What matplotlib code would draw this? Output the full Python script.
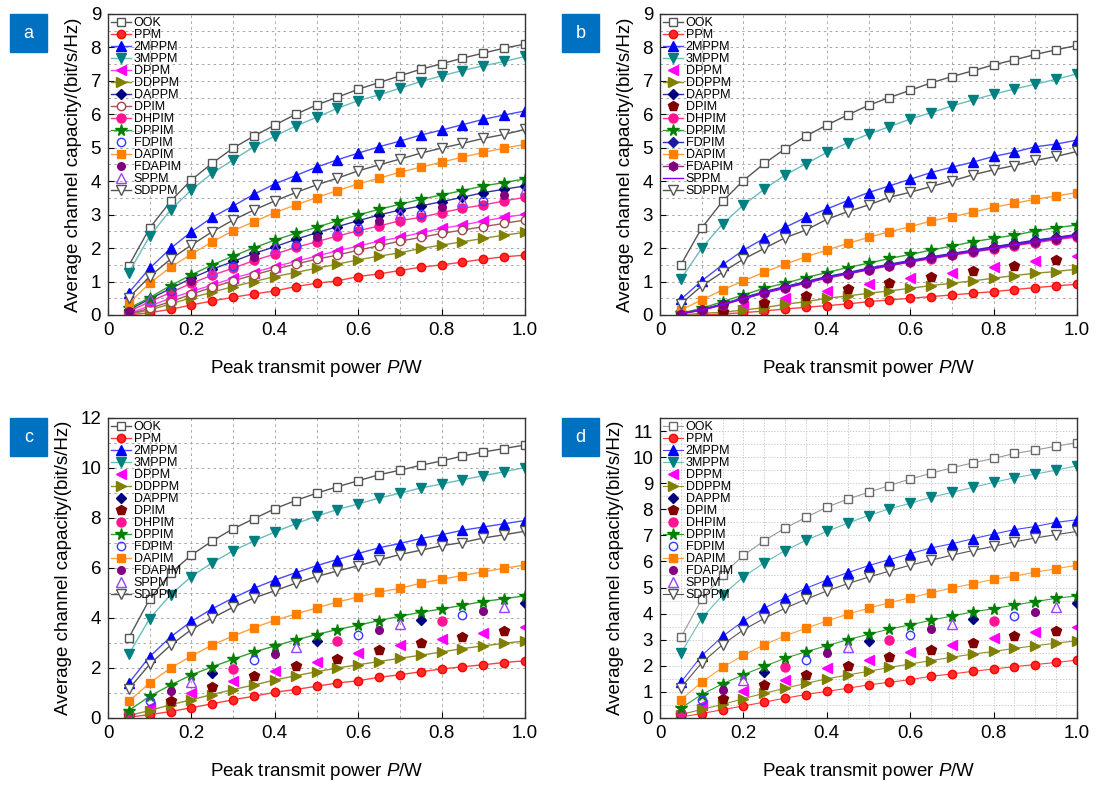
import numpy as np
import matplotlib
matplotlib.use('Agg')
import matplotlib.pyplot as plt
from matplotlib.patches import Rectangle
from matplotlib.ticker import MultipleLocator

plt.rcParams['font.family'] = ['Liberation Sans', 'DejaVu Sans']
plt.rcParams['mathtext.fontset'] = 'custom'
plt.rcParams['mathtext.rm'] = 'Liberation Sans'
plt.rcParams['mathtext.it'] = 'Liberation Sans:italic'

N = np.nan

# peak transmit power P (W)
power = [0.05, 0.10, 0.15, 0.20, 0.25, 0.30, 0.35, 0.40, 0.45, 0.50,
         0.55, 0.60, 0.65, 0.70, 0.75, 0.80, 0.85, 0.90, 0.95, 1.00]

names = ['OOK', 'PPM', '2MPPM', '3MPPM', 'DPPM', 'DDPPM', 'DAPPM', 'DPIM',
         'DHPIM', 'DPPIM', 'FDPIM', 'DAPIM', 'FDAPIM', 'SPPM', 'SDPPM']

# ---- panel a
ook_a = [1.48, 2.60, 3.40, 4.04, 4.54, 4.99, 5.35, 5.68, 6.00, 6.28, 6.51, 6.75, 6.95, 7.15, 7.35, 7.51, 7.68, 7.83, 7.98, 8.10]
ppm_a = [0.00, 0.07, 0.17, 0.30, 0.42, 0.53, 0.63, 0.72, 0.85, 0.95, 1.02, 1.15, 1.23, 1.33, 1.43, 1.50, 1.58, 1.67, 1.74, 1.79]
m2_a = [0.67, 1.40, 1.99, 2.49, 2.92, 3.26, 3.61, 3.92, 4.17, 4.42, 4.64, 4.84, 5.03, 5.20, 5.38, 5.53, 5.69, 5.85, 5.98, 6.10]
m3_a = [1.27, 2.36, 3.14, 3.74, 4.24, 4.64, 5.03, 5.35, 5.65, 5.91, 6.18, 6.41, 6.58, 6.78, 6.98, 7.15, 7.31, 7.45, 7.58, 7.73]
dppm_a = [0.05, 0.27, 0.50, 0.70, 0.90, 1.10, 1.27, 1.45, 1.60, 1.76, 1.92, 2.06, 2.21, 2.32, 2.46, 2.59, 2.69, 2.81, 2.92, 3.01]
ddppm_a = [0.02, 0.15, 0.33, 0.52, 0.68, 0.85, 1.00, 1.15, 1.27, 1.40, 1.52, 1.65, 1.76, 1.86, 1.99, 2.09, 2.19, 2.29, 2.39, 2.47]
dappm_a = [0.15, 0.48, 0.79, 1.10, 1.37, 1.60, 1.84, 2.04, 2.26, 2.46, 2.64, 2.82, 2.99, 3.14, 3.26, 3.39, 3.52, 3.66, 3.76, 3.86]
dpim_a = [0.03, 0.20, 0.40, 0.62, 0.83, 1.02, 1.20, 1.37, 1.52, 1.67, 1.79, 1.94, 2.07, 2.21, 2.32, 2.44, 2.54, 2.64, 2.74, 2.84]
dhpim_a = [0.10, 0.40, 0.67, 0.95, 1.19, 1.40, 1.63, 1.82, 2.02, 2.19, 2.36, 2.52, 2.66, 2.82, 2.92, 3.06, 3.19, 3.29, 3.41, 3.52]
dppim_a = [0.20, 0.52, 0.88, 1.20, 1.50, 1.76, 2.01, 2.24, 2.44, 2.62, 2.82, 2.99, 3.16, 3.31, 3.46, 3.59, 3.72, 3.86, 3.96, 4.07]
fdpim_a = [N, N, 0.72, N, N, 1.48, N, N, 2.10, N, N, 2.60, N, N, 3.02, N, N, 3.40, N, N]
dapim_a = [0.35, 0.95, 1.43, 1.82, 2.19, 2.52, 2.79, 3.06, 3.29, 3.51, 3.72, 3.92, 4.09, 4.27, 4.42, 4.57, 4.72, 4.86, 4.99, 5.10]
fdapim_a = [0.12, N, N, 1.02, N, N, 1.74, N, N, 2.33, N, N, 2.82, N, N, 3.23, N, N, 3.58, N]
sppm_a = [N, 0.47, N, N, 1.32, N, N, 2.00, N, N, 2.55, N, N, 3.02, N, N, 3.42, N, N, 3.75]
sdppm_a = [0.52, 1.15, 1.67, 2.09, 2.49, 2.84, 3.14, 3.41, 3.66, 3.89, 4.09, 4.31, 4.49, 4.66, 4.84, 4.99, 5.13, 5.28, 5.40, 5.55]

# ---- panel b
ook_b = [1.50, 2.60, 3.40, 4.02, 4.53, 4.97, 5.35, 5.68, 5.98, 6.27, 6.50, 6.72, 6.94, 7.13, 7.30, 7.48, 7.63, 7.79, 7.93, 8.06]
ppm_b = [0.00, 0.00, 0.03, 0.07, 0.12, 0.18, 0.23, 0.28, 0.33, 0.40, 0.45, 0.50, 0.55, 0.60, 0.65, 0.70, 0.76, 0.82, 0.87, 0.92]
m2_b = [0.47, 1.02, 1.50, 1.94, 2.29, 2.62, 2.92, 3.17, 3.42, 3.66, 3.86, 4.06, 4.26, 4.42, 4.57, 4.74, 4.87, 5.03, 5.11, 5.23]
m3_b = [1.07, 2.00, 2.72, 3.29, 3.76, 4.19, 4.52, 4.86, 5.15, 5.41, 5.63, 5.86, 6.05, 6.25, 6.43, 6.60, 6.76, 6.90, 7.05, 7.21]
dppm_b = [N, 0.05, N, 0.27, N, 0.52, N, 0.72, N, 0.92, N, 1.10, N, 1.27, N, 1.45, N, 1.60, N, 1.76]
ddppm_b = [0.00, 0.05, 0.08, 0.15, 0.22, 0.32, 0.40, 0.50, 0.57, 0.65, 0.72, 0.80, 0.88, 0.95, 1.02, 1.10, 1.18, 1.25, 1.30, 1.37]
dappm_b = [0.05, 0.17, 0.33, 0.52, 0.70, 0.85, 1.00, 1.15, 1.27, 1.40, 1.52, 1.63, 1.74, 1.84, 1.94, 2.04, 2.14, 2.24, 2.32, 2.41]
dpim_b = [0.00, N, 0.10, N, 0.37, N, 0.57, N, 0.77, N, 0.95, N, 1.13, N, 1.33, N, 1.48, N, 1.65, N]
dhpim_b = [0.03, 0.14, 0.30, 0.48, 0.65, 0.80, 0.95, 1.10, 1.22, 1.35, 1.47, 1.58, 1.68, 1.78, 1.88, 1.97, 2.07, 2.16, 2.25, 2.33]
dppim_b = [0.05, 0.20, 0.40, 0.60, 0.80, 0.95, 1.12, 1.27, 1.42, 1.55, 1.69, 1.81, 1.94, 2.06, 2.19, 2.29, 2.39, 2.51, 2.61, 2.69]
fdpim_b = [0.05, 0.16, 0.32, 0.50, 0.68, 0.83, 0.98, 1.13, 1.25, 1.38, 1.50, 1.61, 1.72, 1.82, 1.92, 2.02, 2.12, 2.22, 2.31, 2.40]
dapim_b = [0.15, 0.45, 0.75, 1.02, 1.28, 1.52, 1.74, 1.94, 2.14, 2.32, 2.49, 2.64, 2.81, 2.94, 3.07, 3.22, 3.34, 3.46, 3.56, 3.66]
fdapim_b = [0.04, 0.15, 0.31, 0.49, 0.66, 0.81, 0.96, 1.11, 1.23, 1.36, 1.48, 1.59, 1.70, 1.80, 1.90, 1.99, 2.09, 2.19, 2.28, 2.36]
sppm_b = [0.04, 0.15, 0.31, 0.49, 0.67, 0.82, 0.97, 1.12, 1.24, 1.37, 1.49, 1.60, 1.71, 1.81, 1.91, 2.00, 2.10, 2.20, 2.29, 2.38]
sdppm_b = [0.33, 0.87, 1.28, 1.67, 1.99, 2.31, 2.54, 2.86, 3.09, 3.29, 3.52, 3.67, 3.84, 4.01, 4.19, 4.34, 4.47, 4.62, 4.74, 4.89]

# ---- panel c
ook_c = [3.21, 4.76, 5.79, 6.52, 7.08, 7.57, 7.97, 8.37, 8.70, 8.99, 9.25, 9.49, 9.73, 9.91, 10.11, 10.28, 10.48, 10.64, 10.78, 10.92]
ppm_c = [0.04, 0.13, 0.26, 0.41, 0.57, 0.73, 0.87, 1.03, 1.14, 1.27, 1.40, 1.49, 1.63, 1.73, 1.85, 1.96, 2.05, 2.13, 2.22, 2.29]
m2_c = [1.40, 2.46, 3.24, 3.87, 4.37, 4.80, 5.19, 5.52, 5.81, 6.09, 6.34, 6.58, 6.81, 6.98, 7.18, 7.33, 7.51, 7.64, 7.77, 7.90]
m3_c = [2.55, 3.98, 4.93, 5.66, 6.21, 6.69, 7.08, 7.44, 7.77, 8.07, 8.34, 8.56, 8.80, 8.99, 9.20, 9.36, 9.53, 9.69, 9.85, 10.02]
dppm_c = [N, 0.45, N, 1.00, N, 1.47, N, 1.89, N, 2.26, N, 2.59, N, 2.91, N, 3.17, N, 3.41, N, 3.63]
ddppm_c = [0.10, 0.30, 0.53, 0.73, 0.94, 1.14, 1.32, 1.52, 1.69, 1.85, 2.00, 2.13, 2.26, 2.39, 2.51, 2.64, 2.78, 2.88, 2.99, 3.08]
dappm_c = [N, N, N, N, 1.82, N, N, N, N, 3.08, N, N, N, N, 3.94, N, N, N, N, 4.60]
dpim_c = [0.10, N, 0.70, N, 1.23, N, 1.69, N, 2.07, N, 2.38, N, 2.72, N, 3.01, N, 3.25, N, 3.50, N]
dhpim_c = [0.15, N, N, N, N, 1.98, N, N, N, N, 3.10, N, N, N, N, 3.90, N, N, N, N]
dppim_c = [0.30, 0.87, 1.32, 1.72, 2.05, 2.35, 2.64, 2.88, 3.12, 3.34, 3.54, 3.71, 3.90, 4.07, 4.23, 4.36, 4.51, 4.66, 4.77, 4.89]
fdpim_c = [N, 0.67, N, N, N, N, 2.31, N, N, N, N, 3.34, N, N, N, N, 4.11, N, N, N]
dapim_c = [0.67, 1.40, 2.00, 2.48, 2.92, 3.28, 3.61, 3.91, 4.16, 4.40, 4.64, 4.84, 5.03, 5.19, 5.39, 5.55, 5.70, 5.85, 5.99, 6.12]
fdapim_c = [N, N, 1.10, N, N, N, N, 2.58, N, N, N, N, 3.54, N, N, N, N, 4.29, N, N]
sppm_c = [N, N, N, 1.43, N, N, N, N, 2.85, N, N, N, N, 3.77, N, N, N, N, 4.44, N]
sdppm_c = [1.16, 2.15, 2.91, 3.54, 4.00, 4.43, 4.80, 5.09, 5.39, 5.66, 5.88, 6.09, 6.32, 6.54, 6.71, 6.89, 7.02, 7.20, 7.33, 7.47]

# ---- panel d
ook_d = [3.09, 4.55, 5.50, 6.23, 6.80, 7.28, 7.69, 8.08, 8.39, 8.65, 8.91, 9.16, 9.38, 9.59, 9.78, 9.95, 10.14, 10.27, 10.42, 10.56]
ppm_d = [0.04, 0.17, 0.32, 0.46, 0.61, 0.76, 0.90, 1.02, 1.14, 1.27, 1.37, 1.47, 1.60, 1.69, 1.79, 1.88, 1.97, 2.05, 2.13, 2.22]
m2_d = [1.37, 2.39, 3.13, 3.72, 4.21, 4.61, 4.97, 5.29, 5.57, 5.84, 6.07, 6.30, 6.52, 6.68, 6.87, 7.05, 7.22, 7.34, 7.50, 7.60]
m3_d = [2.48, 3.82, 4.71, 5.41, 5.95, 6.42, 6.81, 7.15, 7.47, 7.76, 8.02, 8.23, 8.46, 8.65, 8.84, 9.03, 9.21, 9.35, 9.50, 9.67]
dppm_d = [N, 0.48, N, 1.02, N, 1.47, N, 1.91, N, 2.24, N, 2.52, N, 2.81, N, 3.06, N, 3.30, N, 3.49]
ddppm_d = [0.13, 0.33, 0.52, 0.74, 0.95, 1.14, 1.33, 1.50, 1.65, 1.79, 1.94, 2.07, 2.20, 2.33, 2.45, 2.55, 2.67, 2.77, 2.87, 2.96]
dappm_d = [N, N, N, N, 1.78, N, N, N, N, 2.96, N, N, N, N, 3.79, N, N, N, N, 4.40]
dpim_d = [0.10, N, 0.74, N, 1.25, N, 1.65, N, 2.01, N, 2.33, N, 2.62, N, 2.87, N, 3.13, N, 3.34, N]
dhpim_d = [0.20, N, N, N, N, 1.94, N, N, N, N, 2.99, N, N, N, N, 3.72, N, N, N, N]
dppim_d = [0.38, 0.90, 1.31, 1.66, 1.98, 2.29, 2.54, 2.77, 3.00, 3.21, 3.41, 3.57, 3.75, 3.91, 4.07, 4.19, 4.33, 4.46, 4.59, 4.68]
fdpim_d = [N, 0.70, N, N, N, N, 2.22, N, N, N, N, 3.19, N, N, N, N, 3.91, N, N, N]
dapim_d = [0.70, 1.37, 1.94, 2.41, 2.81, 3.15, 3.44, 3.72, 3.98, 4.21, 4.42, 4.61, 4.80, 4.98, 5.15, 5.31, 5.44, 5.59, 5.72, 5.86]
fdapim_d = [N, N, 1.09, N, N, N, N, 2.48, N, N, N, N, 3.41, N, N, N, N, 4.08, N, N]
sppm_d = [N, N, N, 1.47, N, N, N, N, 2.74, N, N, N, N, 3.60, N, N, N, N, 4.27, N]
sdppm_d = [1.16, 2.11, 2.81, 3.38, 3.82, 4.21, 4.55, 4.87, 5.15, 5.40, 5.63, 5.86, 6.05, 6.24, 6.42, 6.58, 6.75, 6.90, 7.03, 7.15]

panels = {
    'a': [ook_a, ppm_a, m2_a, m3_a, dppm_a, ddppm_a, dappm_a, dpim_a, dhpim_a, dppim_a, fdpim_a, dapim_a, fdapim_a, sppm_a, sdppm_a],
    'b': [ook_b, ppm_b, m2_b, m3_b, dppm_b, ddppm_b, dappm_b, dpim_b, dhpim_b, dppim_b, fdpim_b, dapim_b, fdapim_b, sppm_b, sdppm_b],
    'c': [ook_c, ppm_c, m2_c, m3_c, dppm_c, ddppm_c, dappm_c, dpim_c, dhpim_c, dppim_c, fdpim_c, dapim_c, fdapim_c, sppm_c, sdppm_c],
    'd': [ook_d, ppm_d, m2_d, m3_d, dppm_d, ddppm_d, dappm_d, dpim_d, dhpim_d, dppim_d, fdpim_d, dapim_d, fdapim_d, sppm_d, sdppm_d],
}

# line colour, marker, face, edge, size
base = {
    'OOK': ('#555555', 's', 'white', '#555555', 6),
    'PPM': ('#ff4040', 'o', '#ff2a2a', '#ff0000', 6),
    '2MPPM': ('#4a4aff', '^', '#0000ff', '#0000ff', 7),
    '3MPPM': ('#6cbcbc', 'v', '#008080', '#008080', 7),
    'DPPM': ('#ff40ff', '<', '#ff00ff', '#ff00ff', 7),
    'DDPPM': ('#8f8f30', '>', '#808000', '#808000', 7),
    'DAPPM': ('#3030a0', 'D', '#000080', '#000080', 5.5),
    'DPIM': ('#a05858', 'o', 'white', '#a04848', 6),
    'DHPIM': ('#ff3399', 'o', '#ff1493', '#ff1493', 6.5),
    'DPPIM': ('#30a030', '*', '#008000', '#008000', 8.5),
    'FDPIM': (None, 'o', 'none', '#3a3aff', 6),
    'DAPIM': ('#ffa040', 's', '#ff8000', '#ff8000', 6),
    'FDAPIM': (None, 'o', '#800080', '#800080', 5.5),
    'SPPM': (None, '^', 'none', '#9a40ff', 7),
    'SDPPM': ('#555555', 'v', 'white', '#555555', 7),
}


def style(name, key):
    lc, mk, fc, ec, ms = base[name]
    if key in 'cd' and name in ('DPPM', 'DAPPM', 'DHPIM'):
        lc = None
    if key in 'bcd' and name == 'DPPM':
        lc = None
    if key in 'bcd' and name == 'DPIM':
        lc, mk, fc, ec, ms = None, 'p', '#800000', '#800000', 7
    if key == 'b' and name == 'FDPIM':
        lc, mk, fc, ec, ms = '#3030c0', 'D', '#1a1aa0', '#1a1aa0', 5.5
    if key == 'b' and name == 'FDAPIM':
        lc, mk, fc, ec, ms = '#8a308a', 'h', '#800080', '#800080', 6.5
    if key == 'b' and name == 'SPPM':
        lc, mk, fc, ec, ms = '#8000ff', 'None', 'none', 'none', 0
    if key == 'd' and name == 'OOK':
        lc, ec = '#9a9a9a', '#6a6a6a'
    kw = dict(marker=mk, mfc=fc, mec=ec, ms=ms, mew=1.0)
    if lc is None:
        kw.update(ls='None')
    else:
        kw.update(color=lc, lw=1.0 if key != 'd' else 0.8)
    return kw


fig = plt.figure(figsize=(10.98, 7.87), dpi=100)
W, H = 1098, 787
boxes = {'a': (108, 14), 'b': (660, 14), 'c': (108, 418), 'd': (660, 418)}
ylims = {'a': (9, 1), 'b': (9, 1), 'c': (12, 2), 'd': (11.5, 1)}

for key in 'abcd':
    px, py = boxes[key]
    h = 301 if key in 'ab' else 300
    ax = fig.add_axes([px / W, 1 - (py + h) / H, 417 / W, h / H])
    for name, vals in zip(names, panels[key]):
        ax.plot(power, vals, label=name, **style(name, key))
    ymax, ystep = ylims[key]
    ax.set_xlim(0, 1.0)
    ax.set_ylim(0, ymax)
    ax.set_xticks([0, 0.2, 0.4, 0.6, 0.8, 1.0])
    ax.set_xticklabels(['0', '0.2', '0.4', '0.6', '0.8', '1.0'])
    ax.yaxis.set_major_locator(MultipleLocator(ystep))
    if key == 'd':
        ax.xaxis.set_minor_locator(MultipleLocator(0.05))
        ax.yaxis.set_minor_locator(MultipleLocator(0.5))
        ax.grid(which='both', color='#cfcfcf', ls=(0, (1.5, 1.5)), lw=0.7)
    else:
        ax.xaxis.set_minor_locator(MultipleLocator(0.1))
        ax.yaxis.set_minor_locator(MultipleLocator(0.5 if key != 'c' else 1))
        ax.grid(which='both', color='#9a9a9a', ls=(0, (3, 4)), lw=0.6)
    ax.set_axisbelow(True)
    ax.tick_params(which='major', direction='in', length=4, labelsize=13.5, pad=5)
    ax.tick_params(which='minor', length=0)
    for s in ax.spines.values():
        s.set_color('#333333')
        s.set_linewidth(1.0)
    ax.set_xlabel('Peak transmit power $\\mathit{P}$/W', fontsize=13.5, labelpad=14)
    ax.set_ylabel('Average channel capacity/(bit/s/Hz)', fontsize=13.5, labelpad=6)
    ax.legend(loc='upper left', frameon=False, fontsize=9, handlelength=1.6,
              handletextpad=0.2, labelspacing=0.0, borderpad=0.15,
              borderaxespad=0.1)
    # panel tag
    fig.patches.append(Rectangle(((px - 98) / W, 1 - (py + 38) / H), 37 / W, 38 / H,
                                 transform=fig.transFigure, color='#0070c0', zorder=5))
    fig.text((px - 79.5) / W, 1 - (py + 19) / H, key, color='white', fontsize=13,
             ha='center', va='center', zorder=6)

fig.savefig('out.png', dpi=100)
